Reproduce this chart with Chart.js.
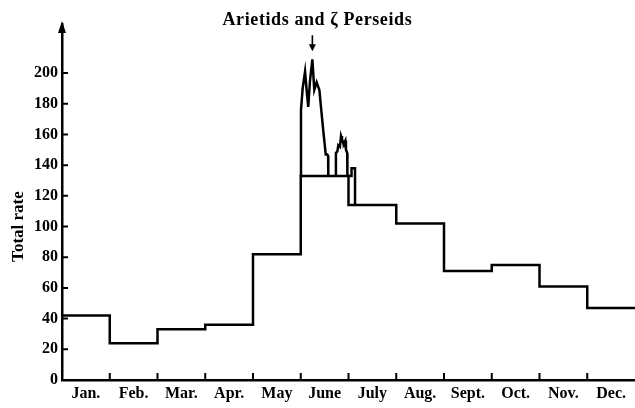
<!DOCTYPE html>
<html>
<head>
<meta charset="utf-8">
<script src="https://cdn.jsdelivr.net/npm/chart.js@4"></script>
<style>
  html, body { margin: 0; padding: 0; background: #fff; }
  #wrap { width: 635px; height: 408px; }
</style>
</head>
<body>
<div id="wrap"><canvas id="grafico"></canvas></div>
<script>
// monthly mean rates (step per month)
const months = ["Jan.", "Feb.", "Mar.", "Apr.", "May", "June", "July", "Aug.", "Sept.", "Oct.", "Nov.", "Dec."];
const monthRates = [42, 24, 33, 36, 82, 133, 114, 102, 71, 75, 61, 47];

// detailed rate around the Arietids / zeta Perseids (days after 1 June)
const junDays  = [0, 0.15, 1.2, 2.7, 3.6, 4.7, 5.8, 7.3, 8.5, 10.0, 11.7, 12.7, 14.2, 15.7, 16.6, 17.2, 17.3,
                  null,
                  22.1, 22.1, 23.0, 23.6, 24.6, 25.3, 25.9, 26.6, 27.1, 28.0, 28.4, 29.2, 29.3,
                  null,
                  30.0, 31.8, 31.9, 34.1, 34.1];
const junRates = [133, 176, 190, 201, 190, 178, 195, 209, 189, 194, 189, 178, 162, 147, 147, 146, 133,
                  null,
                  133, 148, 149, 153, 152, 159, 157, 155, 154, 156, 150, 148, 133,
                  null,
                  133, 133, 138, 138, 114];

const yTicks = [0, 20, 40, 60, 80, 100, 120, 140, 160, 180, 200];
const annotation = "Arietids and \u03B6 Perseids";
const peakDay = 7.3;
const peakRate = 209;

const fuente = "'Liberation Serif', 'DejaVu Serif', serif";

function pasos() {
  const pts = monthRates.map((v, i) => ({ x: i, y: v }));
  pts.push({ x: months.length, y: monthRates[monthRates.length - 1] });
  return pts;
}

function detalle() {
  return junDays.map((d, i) => (d === null ? { x: null, y: null } : { x: 5 + d / 30, y: junRates[i] }));
}

// inward ticks, y arrow, annotation and rotated axis title
const extras = {
  id: "extras",
  afterDraw(chart) {
    const { ctx, chartArea } = chart;
    const xs = chart.scales.x;
    const ys = chart.scales.y;
    ctx.save();
    ctx.strokeStyle = "#000";
    ctx.fillStyle = "#000";
    ctx.lineWidth = 2;
    ctx.beginPath();
    for (let m = 1; m < months.length; m++) {
      const px = xs.getPixelForValue(m);
      ctx.moveTo(px, chartArea.bottom);
      ctx.lineTo(px, chartArea.bottom - 7);
    }
    yTicks.forEach((t) => {
      if (t === 0) return;
      const py = ys.getPixelForValue(t);
      ctx.moveTo(chartArea.left, py);
      ctx.lineTo(chartArea.left + 6, py);
    });
    ctx.stroke();

    // arrow on the y axis
    const ax = chartArea.left;
    const top = chartArea.top;
    ctx.beginPath();
    ctx.moveTo(ax, top - 3);
    ctx.lineTo(ax - 4, top + 9);
    ctx.lineTo(ax + 4, top + 9);
    ctx.closePath();
    ctx.fill();

    // annotation with arrow to the peak
    const peakX = xs.getPixelForValue(5 + peakDay / 30);
    const tip = ys.getPixelForValue(peakRate) - 8;
    ctx.lineWidth = 1.6;
    ctx.beginPath();
    ctx.moveTo(peakX, tip - 16);
    ctx.lineTo(peakX, tip - 4);
    ctx.stroke();
    ctx.beginPath();
    ctx.moveTo(peakX, tip);
    ctx.lineTo(peakX - 3.5, tip - 7);
    ctx.lineTo(peakX + 3.5, tip - 7);
    ctx.closePath();
    ctx.fill();

    ctx.font = "bold 18px " + fuente;
    ctx.letterSpacing = "0.6px";
    ctx.textAlign = "center";
    ctx.textBaseline = "alphabetic";
    ctx.fillText(annotation, peakX + 5, tip - 26);
    ctx.letterSpacing = "0px";

    // y title
    ctx.translate(19, ys.getPixelForValue(100));
    ctx.rotate(-Math.PI / 2);
    ctx.font = "bold 17px " + fuente;
    ctx.textBaseline = "middle";
    ctx.fillText("Total rate", 0, 0);
    ctx.restore();
  },
};

const ctx = document.getElementById("grafico").getContext("2d");
new Chart(ctx, {
  type: "line",
  data: {
    datasets: [
      {
        label: "Monthly",
        data: pasos(),
        stepped: true,
        borderColor: "#000",
        borderWidth: 2.5,
        pointRadius: 0,
        fill: false,
      },
      {
        label: "June detail",
        data: detalle(),
        borderColor: "#000",
        borderWidth: 2.5,
        pointRadius: 0,
        tension: 0,
        spanGaps: false,
        fill: false,
      },
    ],
  },
  options: {
    responsive: true,
    maintainAspectRatio: false,
    animation: false,
    layout: { padding: { top: 24, right: 0, left: 0, bottom: 0 } },
    plugins: {
      legend: { display: false },
      tooltip: { enabled: false },
      title: { display: false },
    },
    scales: {
      x: {
        type: "linear",
        min: 0,
        max: 12,
        afterFit: (s) => { s.height = 28; },
        afterBuildTicks: (s) => {
          s.ticks = months.map((m, i) => ({ value: i + 0.5 }));
        },
        ticks: {
          autoSkip: false,
          maxRotation: 0,
          padding: 4,
          color: "#000",
          font: { family: fuente, size: 16, weight: "bold" },
          callback: (v) => months[Math.floor(v)],
        },
        grid: { display: true, drawOnChartArea: false, drawTicks: false, color: "rgba(0,0,0,0)" },
        border: { display: true, color: "#000", width: 2.5 },
      },
      y: {
        min: 0,
        max: 232,
        afterFit: (s) => { s.width = 62; },
        afterBuildTicks: (s) => {
          s.ticks = yTicks.map((v) => ({ value: v }));
        },
        ticks: {
          padding: 4,
          color: "#000",
          font: { family: fuente, size: 16, weight: "bold" },
        },
        grid: { display: true, drawOnChartArea: false, drawTicks: false, color: "rgba(0,0,0,0)" },
        border: { display: true, color: "#000", width: 2.5 },
      },
    },
  },
  plugins: [extras],
});
</script>
</body>
</html>
